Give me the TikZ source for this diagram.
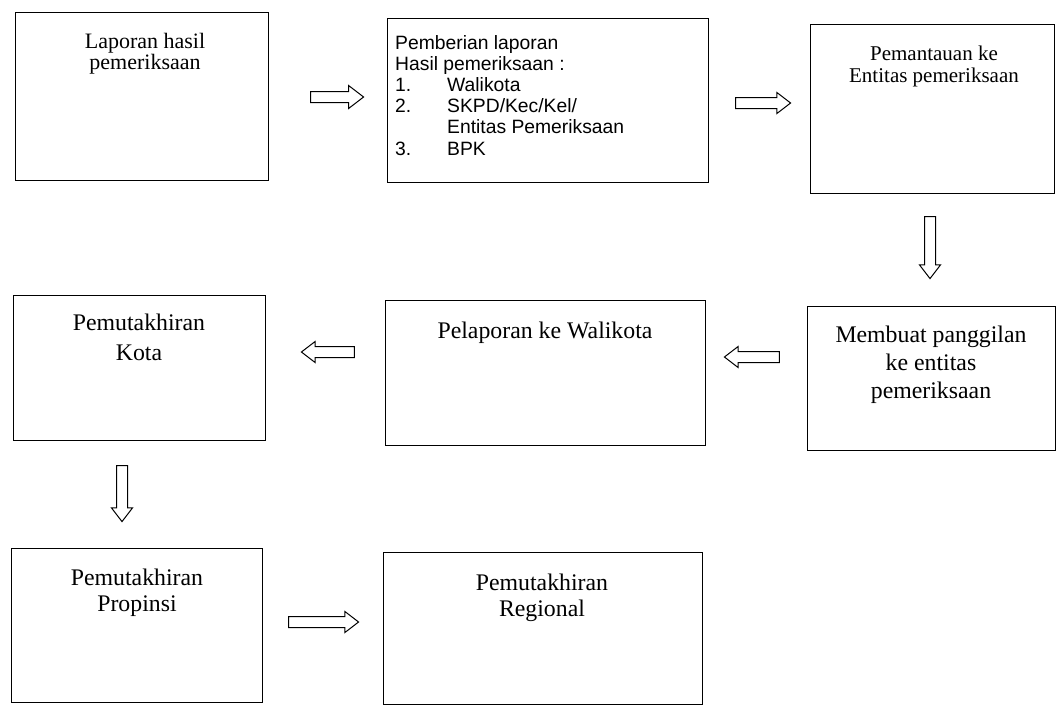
\documentclass[tikz,border=0pt]{standalone}
\usepackage{fontspec}
\setmainfont{Liberation Serif}
\newfontfamily\arialf{Liberation Sans}
\usetikzlibrary{shapes.arrows}
\begin{document}
\begin{tikzpicture}[x=1pt,y=-1pt,
  box/.style={draw, line width=1.3pt, anchor=north west, inner sep=0pt},
  txt/.style={anchor=north, inner sep=0pt, align=center},
  blockarrow/.style={single arrow, draw, line width=1pt, inner xsep=0pt, inner ysep=5pt,
    single arrow head extend=5pt, single arrow tip angle=75}]
\useasboundingbox (0,0) rectangle (1058,705);
% boxes
\node[box, minimum width=253pt, minimum height=168pt] (b1) at (15,12) {};
\node[box, minimum width=321pt, minimum height=164pt] (b2) at (387,18) {};
\node[box, minimum width=244pt, minimum height=169pt] (b3) at (810,24) {};
\node[box, minimum width=252pt, minimum height=145pt] (b4) at (13,295) {};
\node[box, minimum width=320pt, minimum height=145pt] (b5) at (385,300) {};
\node[box, minimum width=248pt, minimum height=144pt] (b6) at (807,306) {};
\node[box, minimum width=251pt, minimum height=154pt] (b7) at (11,548) {};
\node[box, minimum width=319pt, minimum height=152pt] (b8) at (383,552) {};
% texts
\node[txt, font=\fontsize{22}{19.5}\selectfont] (t1) at (145,33) {Laporan hasil\\pemeriksaan};
\node[anchor=north west, inner sep=0pt, align=left, font=\arialf\fontsize{19.3}{21.2}\selectfont] (t2) at (395,35)
  {Pemberian laporan\\Hasil pemeriksaan :\\\makebox[52pt][l]{1.}Walikota\\\makebox[52pt][l]{2.}SKPD/Kec/Kel/\\\hspace*{52pt}Entitas Pemeriksaan\\\makebox[52pt][l]{3.}BPK};
\node[txt, font=\fontsize{21}{22}\selectfont] (t3) at (934,46) {Pemantauan ke\\Entitas pemeriksaan};
\node[txt, font=\fontsize{23.8}{30}\selectfont] (t4) at (139,314) {Pemutakhiran\\Kota};
\node[txt, font=\fontsize{23.8}{28}\selectfont] (t5) at (545,322) {Pelaporan ke Walikota};
\node[txt, font=\fontsize{23.8}{28}\selectfont] (t6) at (931,326) {Membuat panggilan\\ke entitas\\pemeriksaan};
\node[txt, font=\fontsize{23.8}{26}\selectfont] (t7) at (137,569) {Pemutakhiran\\Propinsi};
\node[txt, font=\fontsize{23.8}{26}\selectfont] (t8) at (542,574) {Pemutakhiran\\Regional};
% block arrows
\node[blockarrow, minimum height=53pt, single arrow head extend=6pt] (a1) at (333.5,97) {};
\node[blockarrow, minimum height=55pt] (a2) at (759.5,103) {};
\node[blockarrow, minimum height=62pt, rotate=-90] (a3) at (930,244) {};
\node[blockarrow, minimum height=55pt, rotate=180] (a4) at (755.5,357) {};
\node[blockarrow, minimum height=53pt, rotate=180] (a5) at (331.5,352) {};
\node[blockarrow, minimum height=56pt, rotate=-90] (a6) at (122,490) {};
\node[blockarrow, minimum height=70pt] (a7) at (320,622) {};
\end{tikzpicture}
\end{document}
